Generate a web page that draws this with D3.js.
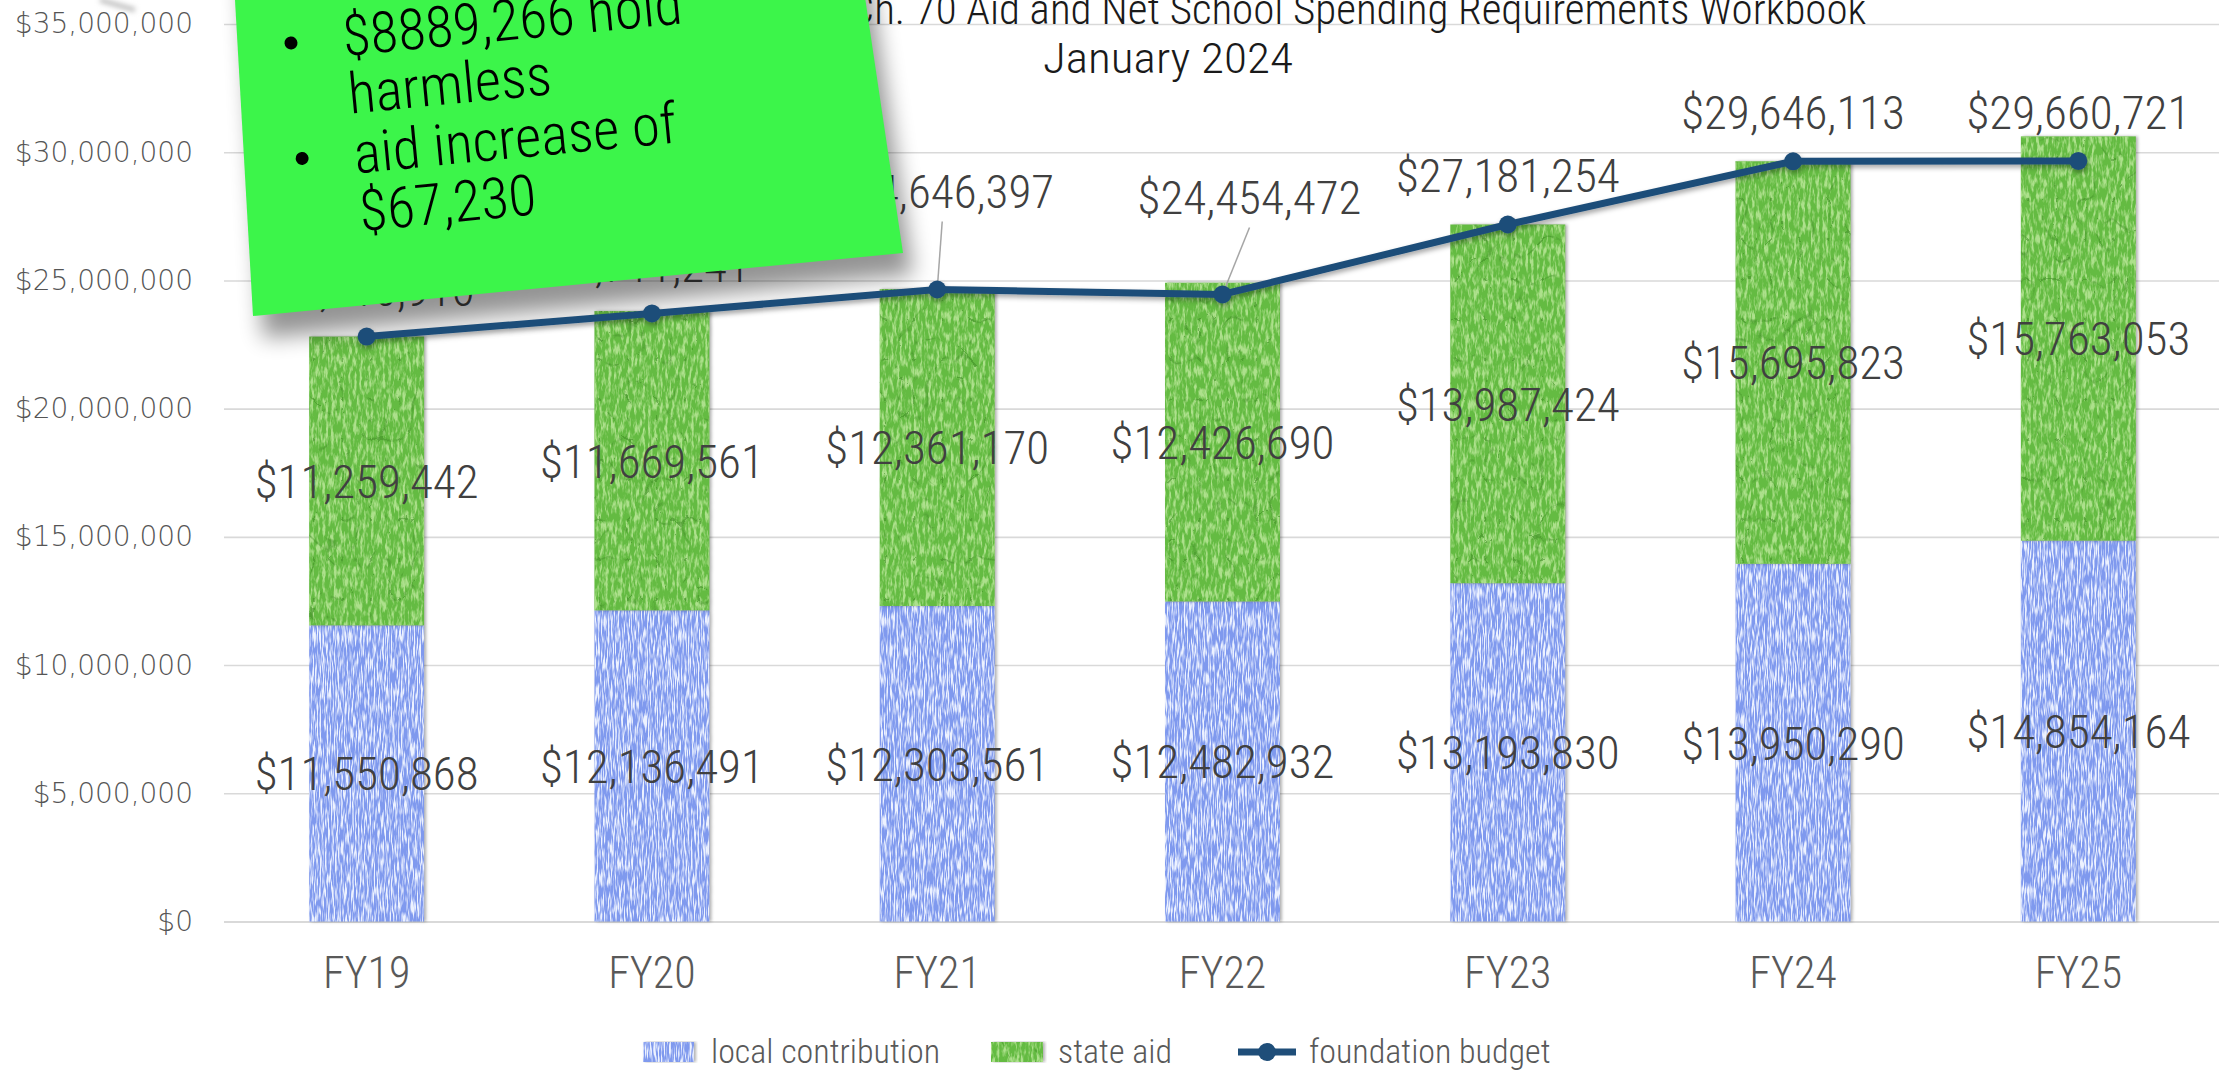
<!DOCTYPE html>
<html><head><meta charset="utf-8">
<script src="https://cdn.jsdelivr.net/npm/d3@7"></script>
<style>body{margin:0;background:#fff} svg{display:block}</style>
</head><body><div id="chart"></div>
<script>
// ---------- data ----------
const categories = ["FY19","FY20","FY21","FY22","FY23","FY24","FY25"];
const localContribution = [11550868, 12136491, 12303561, 12482932, 13193830, 13950290, 14854164];
const stateAid = [11259442, 11669561, 12361170, 12426690, 13987424, 15695823, 15763053];
const foundationBudget = [22810910, 23711241, 24646397, 24454472, 27181254, 29646113, 29660721];
const yTicks = [0, 5000000, 10000000, 15000000, 20000000, 25000000, 30000000, 35000000];
const legendLabels = ["local contribution", "state aid", "foundation budget"];
const titleLines = ["Ch. 70 Aid and Net School Spending Requirements Workbook", "January 2024"];
const noteItems = [["$8889,266 hold", "harmless"], ["aid increase of", "$67,230"]];

// ---------- layout / style ----------
const W = 2229, H = 1074;
const HAND = "'Roboto Condensed','Liberation Sans Narrow','DejaVu Sans Condensed',sans-serif";
const HW = 300;
const AXISFONT = "'DejaVu Sans',sans-serif";
const C_LOCAL = "#7f99ee", C_STATE = "#64bb42", C_LINE = "#1f4e79";
const fmt = d3.format("$,.0f");

const svg = d3.select("#chart").append("svg").attr("width", W).attr("height", H);
svg.append("rect").attr("width", W).attr("height", H).attr("fill", "#fff");
const defs = svg.append("defs");
defs.html(`
<filter id="texBlue" x="-0.05" y="-0.01" width="1.12" height="1.02" color-interpolation-filters="sRGB">
  <feTurbulence type="fractalNoise" baseFrequency="0.7 0.07" numOctaves="2" seed="4" result="n"/>
  <feColorMatrix in="n" type="matrix" values="0 0 0 0 0.93  0 0 0 0 0.95  0 0 0 0 1  4 0 0 0 -1.7" result="wn"/>
  <feComposite in="wn" in2="SourceAlpha" operator="in" result="w"/>
  <feMerge result="tex"><feMergeNode in="SourceGraphic"/><feMergeNode in="w"/></feMerge>
  <feDropShadow in="tex" dx="2" dy="0" stdDeviation="1.5" flood-color="#000" flood-opacity="0.3"/>
</filter>
<filter id="texGreen" x="-0.05" y="-0.01" width="1.12" height="1.02" color-interpolation-filters="sRGB">
  <feTurbulence type="fractalNoise" baseFrequency="0.35 0.09" numOctaves="3" seed="11" result="n"/>
  <feColorMatrix in="n" type="matrix" values="0 0 0 0 0.68  0 0 0 0 0.88  0 0 0 0 0.55  3.4 0 0 0 -1.45" result="ln"/>
  <feComposite in="ln" in2="SourceAlpha" operator="in" result="light"/>
  <feTurbulence type="turbulence" baseFrequency="0.035 0.025" numOctaves="2" seed="5" result="t"/>
  <feColorMatrix in="t" type="matrix" values="0 0 0 0 0.25  0 0 0 0 0.55  0 0 0 0 0.15  -8 0 0 0 0.55" result="dn"/>
  <feComposite in="dn" in2="SourceAlpha" operator="in" result="dark"/>
  <feMerge result="tex"><feMergeNode in="SourceGraphic"/><feMergeNode in="light"/><feMergeNode in="dark"/></feMerge>
  <feDropShadow in="tex" dx="2" dy="0" stdDeviation="1.5" flood-color="#000" flood-opacity="0.3"/>
</filter>
<filter id="lineShadow" x="-0.05" y="-0.5" width="1.1" height="2">
  <feDropShadow dx="1" dy="3" stdDeviation="2.5" flood-color="#000" flood-opacity="0.35"/>
</filter>
<filter id="noteShadow" x="-0.3" y="-0.3" width="1.6" height="1.6">
  <feGaussianBlur stdDeviation="11"/>
</filter>
<filter id="soft" x="-1" y="-1" width="3" height="3"><feGaussianBlur stdDeviation="2.5"/></filter>
`);

const x = d3.scaleBand().domain(categories).range([224, 2221]).paddingInner(0.597).paddingOuter(0.2985);
const y = d3.scaleLinear().domain([0, 35000000]).range([921.5, 24]);
const cx = c => x(c) + x.bandwidth() / 2;

// ---------- y axis with gridlines ----------
const yAxis = d3.axisLeft(y).tickValues(yTicks).tickFormat(d3.format("$,")).tickSize(-(2219 - 224)).tickPadding(31);
const gy = svg.append("g").attr("transform", "translate(224,0)").call(yAxis);
gy.select(".domain").remove();
gy.selectAll(".tick line").attr("stroke", "#d9d9d9").attr("stroke-width", d => d === 0 ? 2.2 : 1.6);
gy.selectAll(".tick text").attr("font-family", AXISFONT).attr("font-weight", 200)
  .attr("font-size", 28).attr("fill", "#555");

// ---------- x axis ----------
const xAxis = d3.axisBottom(x).tickSize(0).tickPadding(35);
const gx = svg.append("g").attr("transform", "translate(0,921.5)").call(xAxis);
gx.select(".domain").remove();
gx.selectAll(".tick text").attr("font-family", HAND).attr("font-weight", HW).attr("font-size", 44).attr("fill", "#595959");

// ---------- stacked bars ----------
const rows = categories.map((c, i) => ({ cat: c, local: localContribution[i], state: stateAid[i] }));
const stacked = d3.stack().keys(["local", "state"])(rows);
const colors = { local: C_LOCAL, state: C_STATE };
const filters = { local: "url(#texBlue)", state: "url(#texGreen)" };
svg.append("g").selectAll("g").data(stacked).join("g")
  .attr("fill", s => colors[s.key]).attr("filter", s => filters[s.key])
  .selectAll("rect").data(s => s).join("rect")
  .attr("x", d => x(d.data.cat)).attr("width", x.bandwidth())
  .attr("y", d => y(d[1])).attr("height", d => y(d[0]) - y(d[1]));

// segment labels
svg.append("g").selectAll("g").data(stacked).join("g")
  .selectAll("text").data(s => s.map(d => ({ d, key: s.key }))).join("text")
  .attr("x", o => cx(o.d.data.cat))
  .attr("y", o => y((o.d[0] + o.d[1]) / 2))
  .attr("dy", "0.36em").attr("text-anchor", "middle")
  .attr("font-family", HAND).attr("font-weight", HW).attr("font-size", 47).attr("fill", "#404040")
  .text(o => fmt(o.d.data[o.key]));

// ---------- foundation budget labels ----------
const fbData = categories.map((c, i) => ({ cat: c, v: foundationBudget[i] }));
const labelNudge = { FY19: [-4, -31], FY20: [-14, -31], FY21: [5, -81], FY22: [27, -80], FY23: [0, -32], FY24: [0, -32], FY25: [0, -32] };
const leader = { FY21: true, FY22: true };
const fbl = svg.append("g");
fbl.selectAll("line").data(fbData.filter(d => leader[d.cat])).join("line")
  .attr("x1", d => cx(d.cat) + labelNudge[d.cat][0]).attr("y1", d => y(d.v) + labelNudge[d.cat][1] + 13)
  .attr("x2", d => cx(d.cat)).attr("y2", d => y(d.v))
  .attr("stroke", "#a6a6a6").attr("stroke-width", 1.5);
fbl.selectAll("text").data(fbData).join("text")
  .attr("x", d => cx(d.cat) + labelNudge[d.cat][0]).attr("y", d => y(d.v) + labelNudge[d.cat][1])
  .attr("text-anchor", "middle").attr("font-family", HAND).attr("font-weight", HW).attr("font-size", 47).attr("fill", "#404040")
  .text(d => fmt(d.v));

// ---------- title ----------
svg.append("text").attr("x", 1358).attr("y", 24).attr("text-anchor", "middle")
  .attr("font-family", HAND).attr("font-weight", HW).attr("font-size", 43).attr("fill", "#1a1a1a").text(titleLines[0]);
svg.append("text").attr("x", 1168).attr("y", 73).attr("text-anchor", "middle")
  .attr("font-family", HAND).attr("font-weight", HW).attr("font-size", 43).attr("fill", "#1a1a1a")
  .attr("textLength", 250).attr("lengthAdjust", "spacingAndGlyphs").text(titleLines[1]);

// ---------- sticky note ----------
const notePts = [[231, -70], [855, -70], [903, 253], [253, 316]];
const noteG = svg.append("g");
noteG.append("line").attr("x1", 100).attr("y1", 0).attr("x2", 135).attr("y2", 10)
  .attr("stroke", "#c4c4c4").attr("stroke-width", 5).attr("filter", "url(#soft)");
noteG.append("polygon").attr("points", notePts.map(p => [p[0] + 10, p[1] + 22].join(",")).join(" "))
  .attr("fill", "#000").attr("opacity", 0.42).attr("filter", "url(#noteShadow)");
noteG.append("polygon").attr("points", notePts.map(p => p.join(",")).join(" ")).attr("fill", "#3cf54a");
const nt = noteG.append("g").attr("transform", "translate(291,43) rotate(-5.5)");
const bulletY = [0, 116];
const lineY = [[18, 76], [136, 194]];
noteItems.forEach((item, k) => {
  nt.append("circle").attr("cx", 0).attr("cy", bulletY[k]).attr("r", 6.5).attr("fill", "#000");
  item.forEach((line, j) => {
    nt.append("text").attr("x", 52).attr("y", lineY[k][j])
      .attr("font-family", HAND).attr("font-weight", 300).attr("font-size", 57).attr("fill", "#000").text(line);
  });
});

// ---------- foundation budget line ----------
const lg = svg.append("g").attr("filter", "url(#lineShadow)");
lg.append("path").datum(fbData)
  .attr("d", d3.line().x(d => cx(d.cat)).y(d => y(d.v)))
  .attr("fill", "none").attr("stroke", C_LINE).attr("stroke-width", 7).attr("stroke-linejoin", "round");
lg.selectAll("circle").data(fbData).join("circle")
  .attr("cx", d => cx(d.cat)).attr("cy", d => y(d.v)).attr("r", 9).attr("fill", C_LINE);

// ---------- legend ----------
const leg = svg.append("g");
const legY = 1052;
leg.append("rect").attr("x", 643).attr("y", legY - 10).attr("width", 51).attr("height", 20)
  .attr("fill", C_LOCAL).attr("filter", "url(#texBlue)");
leg.append("text").attr("x", 711).attr("y", legY + 11).text(legendLabels[0]);
leg.append("rect").attr("x", 991).attr("y", legY - 10).attr("width", 52).attr("height", 20)
  .attr("fill", C_STATE).attr("filter", "url(#texGreen)");
leg.append("text").attr("x", 1058).attr("y", legY + 11).text(legendLabels[1]);
leg.append("line").attr("x1", 1238).attr("x2", 1296).attr("y1", legY).attr("y2", legY)
  .attr("stroke", C_LINE).attr("stroke-width", 7);
leg.append("circle").attr("cx", 1267).attr("cy", legY).attr("r", 9).attr("fill", C_LINE);
leg.append("text").attr("x", 1309).attr("y", legY + 11).text(legendLabels[2]);
leg.selectAll("text").attr("font-family", HAND).attr("font-weight", HW).attr("font-size", 34).attr("fill", "#595959");
</script>
</body></html>
